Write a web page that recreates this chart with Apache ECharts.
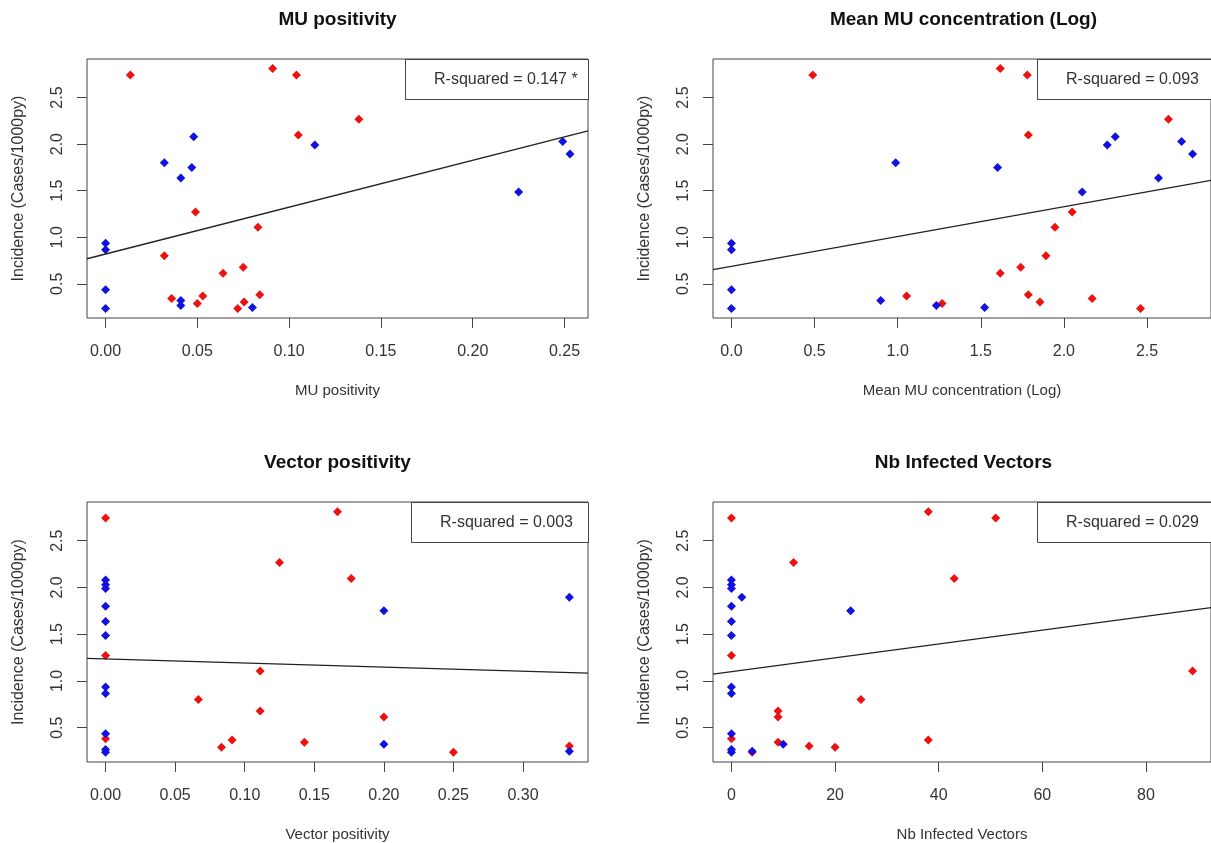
<!DOCTYPE html>
<html lang="en">
<head>
    <meta charset="UTF-8">
    <title>incidence_scatter</title>
    <script src="https://cdn.jsdelivr.net/npm/echarts@6/dist/echarts.min.js"></script>
    <style>
        html,body{margin:0;padding:0;background:#fff}
        #main{width:1211px;height:843px}
    </style>
</head>
<body>
    <div id="main"></div>
    <script>
        // one entry per site: 15 blue sites then 16 red sites
        var group = ['blue','blue','blue','blue','blue','blue','blue','blue','blue','blue','blue','blue','blue','blue','blue',
                     'red','red','red','red','red','red','red','red','red','red','red','red','red','red','red','red'];
        var incidence = [2.079, 1.990, 1.800, 1.750, 1.636, 0.936, 0.865, 0.436, 0.236, 0.322, 0.268, 0.247, 2.029, 1.894, 1.486,
                         2.743, 2.811, 2.743, 2.097, 1.272, 1.107, 0.801, 0.679, 0.614, 0.343, 0.368, 0.290, 0.304, 0.236, 0.383, 2.268];
        var muPositivity = [0.048, 0.114, 0.032, 0.047, 0.041, 0, 0, 0, 0, 0.041, 0.041, 0.080, 0.249, 0.253, 0.225,
                            0.0135, 0.091, 0.104, 0.105, 0.049, 0.083, 0.032, 0.075, 0.064, 0.036, 0.053, 0.050, 0.0755, 0.072, 0.084, 0.138];
        var muConcLog = [2.309, 2.261, 0.988, 1.601, 2.569, 0, 0, 0, 0, 0.898, 1.233, 1.523, 2.708, 2.774, 2.110,
                         0.489, 1.617, 1.780, 1.786, 2.050, 1.946, 1.892, 1.740, 1.617, 2.170, 1.054, 1.267, 1.856, 2.461, 1.786, 2.629];
        var vectorPositivity = [0, 0, 0, 0.2, 0, 0, 0, 0, 0, 0.2, 0, 0.3333, 0, 0.3333, 0,
                                0, 0.1667, 0.3, 0.1765, 0, 0.1111, 0.0667, 0.1111, 0.2, 0.1429, 0.0909, 0.0833, 0.3333, 0.25, 0, 0.125];
        var nbInfected = [0, 0, 0, 23, 0, 0, 0, 0, 0, 10, 0, 4, 0, 2, 0,
                          0, 38, 51, 43, 0, 89, 25, 9, 9, 9, 38, 20, 15, 4, 0, 12];

        // tick labels
        var yTicks = [0.5, 1.0, 1.5, 2.0, 2.5];
        var muPosTicks = [0, 0.05, 0.10, 0.15, 0.20, 0.25];
        var muConcTicks = [0, 0.5, 1.0, 1.5, 2.0, 2.5];
        var vecPosTicks = [0, 0.05, 0.10, 0.15, 0.20, 0.25, 0.30];
        var nbTicks = [0, 20, 40, 60, 80];

        // fitted lines (intercept, slope) and R-squared
        var fits = [[0.820, 5.03], [0.688, 0.320], [1.236, -0.442], [1.0985, 0.00742]];
        var rSquared = ['R-squared = 0.147 *', 'R-squared = 0.093', 'R-squared = 0.003', 'R-squared = 0.029'];

        var FONT = "'Liberation Sans', Arial, sans-serif";
        var yMin = 0.133, yMax = 2.914;

        var panels = [
            {title:'MU positivity', xs:muPositivity, ticks:muPosTicks, dec:2, xMin:-0.0101, xMax:0.2628, left:87, top:59, height:259, boxLeft:405},
            {title:'Mean MU concentration (Log)', xs:muConcLog, ticks:muConcTicks, dec:1, xMin:-0.111, xMax:2.885, left:713, top:59, height:259, boxLeft:1037},
            {title:'Vector positivity', xs:vectorPositivity, ticks:vecPosTicks, dec:2, xMin:-0.01334, xMax:0.3467, left:87, top:502, height:260, boxLeft:411},
            {title:'Nb Infected Vectors', xs:nbInfected, ticks:nbTicks, dec:0, xMin:-3.56, xMax:92.56, left:713, top:502, height:260, boxLeft:1037}
        ];
        var W = 501;

        var option = {
            animation:false,
            backgroundColor:'#fff',
            title:[], grid:[], xAxis:[], yAxis:[], series:[], graphic:[]
        };

        panels.forEach(function (p, i) {
            option.title.push({
                text:p.title, left:p.left + W/2, top:p.top - 49, textAlign:'center', padding:0,
                textStyle:{fontFamily:FONT, fontSize:19, fontWeight:'bold', color:'#111', lineHeight:20}
            });
            option.grid.push({
                left:p.left, top:p.top, width:W, height:p.height,
                show:true, borderColor:'#444', borderWidth:1, backgroundColor:'transparent'
            });
            option.xAxis.push({
                type:'value', gridIndex:i, min:p.xMin, max:p.xMax,
                name:p.title, nameLocation:'middle', nameGap:65,
                nameTextStyle:{fontFamily:FONT, fontSize:15, color:'#333'},
                axisLine:{show:false, onZero:false},
                splitLine:{show:false},
                axisTick:{show:true, length:10, customValues:p.ticks, lineStyle:{color:'#444'}},
                axisLabel:{customValues:p.ticks, margin:26, fontFamily:FONT, fontSize:16, color:'#333',
                    formatter:(function (d) { return function (v) { return v.toFixed(d); }; })(p.dec)}
            });
            option.yAxis.push({
                type:'value', gridIndex:i, min:yMin, max:yMax,
                name:'Incidence (Cases/1000py)', nameLocation:'middle', nameGap:60,
                nameTextStyle:{fontFamily:FONT, fontSize:16, color:'#333'},
                axisLine:{show:false, onZero:false},
                splitLine:{show:false},
                axisTick:{show:true, length:10, customValues:yTicks, lineStyle:{color:'#444'}},
                axisLabel:{customValues:yTicks, rotate:90, margin:21, fontFamily:FONT, fontSize:16, color:'#333',
                    formatter:function (v) { return v.toFixed(1); }}
            });

            ['red', 'blue'].forEach(function (g) {
                var pts = [];
                for (var k = 0; k < incidence.length; k++) {
                    if (group[k] === g) pts.push([p.xs[k], incidence[k]]);
                }
                option.series.push({
                    type:'scatter', xAxisIndex:i, yAxisIndex:i, data:pts,
                    symbol:'diamond', symbolSize:9, silent:true,
                    itemStyle:{color:g === 'red' ? '#ee1111' : '#1111e0', opacity:1}
                });
            });

            var f = fits[i];
            option.series.push({
                type:'line', xAxisIndex:i, yAxisIndex:i, symbol:'none', silent:true,
                data:[[p.xMin, f[0] + f[1]*p.xMin], [p.xMax, f[0] + f[1]*p.xMax]],
                lineStyle:{color:'#222', width:1.3}, z:3
            });

            // legend box, like R's legend("topright")
            option.graphic.push({
                type:'rect', z:100,
                shape:{x:p.boxLeft + 0.5, y:p.top + 0.5, width:p.left + W - p.boxLeft, height:40},
                style:{fill:'#fff', stroke:'#444', lineWidth:1}
            });
            option.graphic.push({
                type:'text', z:101, x:p.boxLeft + 29, y:p.top + 21,
                style:{text:rSquared[i], font:'16px ' + FONT, fill:'#333', textVerticalAlign:'middle'}
            });
        });

        var mychart = echarts.init(document.getElementById('main'));
        mychart.setOption(option);
    </script>
</body>
</html>
